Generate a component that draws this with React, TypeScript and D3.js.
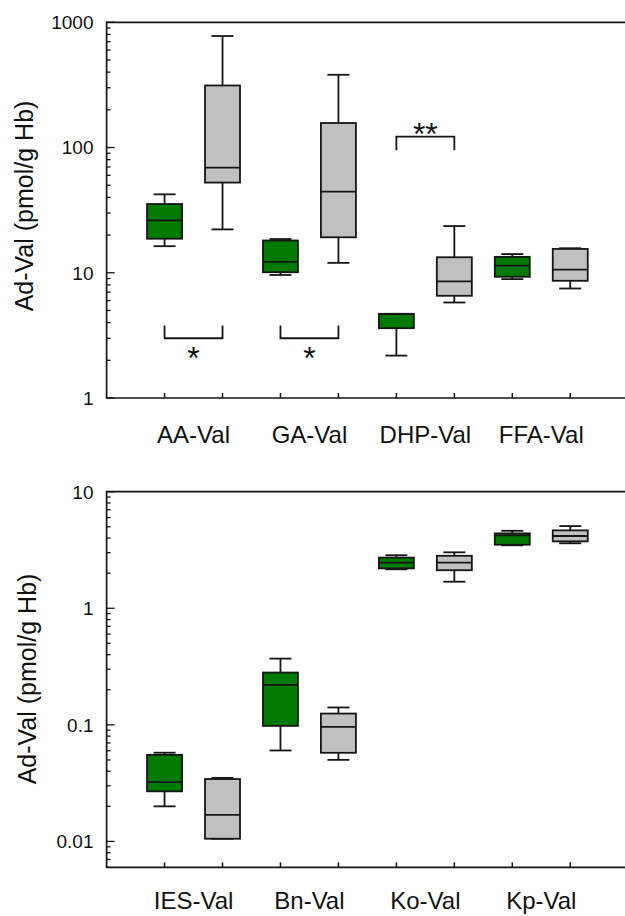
import React, { useRef, useEffect } from "react";
import * as d3 from "d3";

// box stats: [whiskerLow, q1, median, q3, whiskerHigh]
const topCategories = ["AA-Val", "GA-Val", "DHP-Val", "FFA-Val"];
const topGreen = [
  [16.3, 18.7, 26.2, 35.4, 42.3],
  [9.6, 10.1, 12.2, 18.1, 18.6],
  [2.18, 3.61, 4.7, 4.7, 4.7],
  [8.9, 9.29, 11.4, 13.4, 14.1],
];
const topGrey = [
  [22.2, 52.5, 69.2, 313, 777],
  [12.0, 19.2, 44.5, 157, 381],
  [5.79, 6.55, 8.53, 13.3, 23.6],
  [7.49, 8.63, 10.6, 15.5, 15.7],
];
const topTicks = [1, 10, 100, 1000];
const topTickLabels = ["1", "10", "100", "1000"];
// significance: [category index, label, line value, end value]
const topSignif = [
  [0, "*", 3, 3.8],
  [1, "*", 3, 3.8],
  [2, "**", 122, 95],
];

const bottomCategories = ["IES-Val", "Bn-Val", "Ko-Val", "Kp-Val"];
const bottomGreen = [
  [0.02, 0.0269, 0.0323, 0.0553, 0.0577],
  [0.0603, 0.098, 0.22, 0.281, 0.37],
  [2.16, 2.2, 2.46, 2.72, 2.85],
  [3.47, 3.51, 4.22, 4.39, 4.62],
];
const bottomGrey = [
  [0.01055, 0.01055, 0.0169, 0.0343, 0.0351],
  [0.0501, 0.0576, 0.0961, 0.125, 0.141],
  [1.69, 2.12, 2.46, 2.82, 3.02],
  [3.61, 3.75, 4.17, 4.66, 5.07],
];
const bottomTicks = [0.01, 0.1, 1, 10];
const bottomTickLabels = ["0.01", "0.1", "1", "10"];

const yTitle = "Ad-Val (pmol/g Hb)";

const W = 625;
const H = 916;
const FONT = "Arial, 'Liberation Sans', sans-serif";
const GREEN = "#007a00";
const GREY = "#c0c0c0";
const INK = "#151515";

const drawPanel = (svg, cfg) => {
  const x = d3.scaleLinear().domain([0, 9]).range([106.6, 628.2]);
  const y = d3.scaleLog().domain(cfg.domain).range(cfg.range);
  const g = svg.append("g");
  const [x0, x1] = x.range();
  const [yb, yt] = cfg.range;

  // frame: left, bottom, top
  g.append("path")
    .attr("d", `M${x1},${yt}H${x0}V${yb}H${x1}`)
    .attr("fill", "none")
    .attr("stroke", INK)
    .attr("stroke-width", 1.7);

  // y ticks (major + minor, pointing inside)
  const lo = Math.floor(Math.log10(cfg.domain[0]));
  const hi = Math.ceil(Math.log10(cfg.domain[1]));
  for (let e = lo; e < hi; e++) {
    for (let k = 1; k <= 9; k++) {
      const v = k * Math.pow(10, e);
      if (v < cfg.domain[0] * 0.999 || v > cfg.domain[1] * 1.001) continue;
      g.append("line")
        .attr("x1", x0)
        .attr("x2", x0 + (k === 1 ? 8 : 4))
        .attr("y1", y(v))
        .attr("y2", y(v))
        .attr("stroke", INK)
        .attr("stroke-width", 1.3);
    }
  }
  g.append("line")
    .attr("x1", x0).attr("x2", x0 + 8)
    .attr("y1", yt).attr("y2", yt)
    .attr("stroke", INK).attr("stroke-width", 1.3);

  g.selectAll(".ylab")
    .data(cfg.ticks)
    .enter()
    .append("text")
    .attr("x", 93.5)
    .attr("y", d => y(d))
    .attr("dy", "0.36em")
    .attr("text-anchor", "end")
    .style("font-family", FONT)
    .style("font-size", "19px")
    .attr("fill", "#111")
    .text((d, i) => cfg.tickLabels[i]);

  // x ticks pointing up
  d3.range(1, 9).forEach(p => {
    g.append("line")
      .attr("x1", x(p)).attr("x2", x(p))
      .attr("y1", yb).attr("y2", yb - 5)
      .attr("stroke", INK).attr("stroke-width", 1.5);
  });

  g.selectAll(".xlab")
    .data(cfg.categories)
    .enter()
    .append("text")
    .attr("x", (d, i) => x(2 * i + 1.5))
    .attr("y", yb + cfg.labelGap)
    .attr("text-anchor", "middle")
    .style("font-family", FONT)
    .style("font-size", "24px")
    .attr("fill", "#111")
    .text(d => d);

  // y title
  g.append("text")
    .attr("transform", `translate(${cfg.titleX},${cfg.titleY}) rotate(-90)`)
    .attr("text-anchor", "middle")
    .style("font-family", FONT)
    .style("font-size", "25px")
    .attr("fill", "#111")
    .text(yTitle);

  const drawBox = (s, pos, fill) => {
    const cx = x(pos);
    const bw = 17.5;
    const cw = 11;
    const [wl, q1, md, q3, wh] = s;
    const bg = g.append("g")
      .attr("stroke", INK)
      .attr("stroke-width", 1.8);
    bg.append("line").attr("x1", cx).attr("x2", cx).attr("y1", y(q3)).attr("y2", y(wh));
    bg.append("line").attr("x1", cx).attr("x2", cx).attr("y1", y(q1)).attr("y2", y(wl));
    bg.append("line").attr("x1", cx - cw).attr("x2", cx + cw).attr("y1", y(wh)).attr("y2", y(wh));
    bg.append("line").attr("x1", cx - cw).attr("x2", cx + cw).attr("y1", y(wl)).attr("y2", y(wl));
    bg.append("rect")
      .attr("x", cx - bw)
      .attr("width", bw * 2)
      .attr("y", y(q3))
      .attr("height", y(q1) - y(q3))
      .attr("fill", fill);
    bg.append("line").attr("x1", cx - bw).attr("x2", cx + bw).attr("y1", y(md)).attr("y2", y(md));
  };

  cfg.green.forEach((s, i) => drawBox(s, 2 * i + 1, GREEN));
  cfg.grey.forEach((s, i) => drawBox(s, 2 * i + 2, GREY));

  // significance brackets
  (cfg.signif || []).forEach(([ci, label, lineV, endV]) => {
    const xa = x(2 * ci + 1);
    const xb = x(2 * ci + 2);
    const yl = y(lineV);
    const ye = y(endV);
    g.append("path")
      .attr("d", `M${xa},${ye}V${yl}H${xb}V${ye}`)
      .attr("fill", "none")
      .attr("stroke", INK)
      .attr("stroke-width", 1.8);
    const above = ye > yl;
    g.append("text")
      .attr("x", (xa + xb) / 2)
      .attr("y", above ? yl + 8.5 : yl + 30.5)
      .attr("text-anchor", "middle")
      .style("font-family", FONT)
      .style("font-size", "32px")
      .attr("fill", "#111")
      .text(label);
  });
};

const App = () => {
  const ref = useRef();

  useEffect(() => {
    const svg = d3.select(ref.current);
    svg.selectAll("*").remove();

    drawPanel(svg, {
      domain: [1, 1000],
      range: [398, 22.3],
      categories: topCategories,
      green: topGreen,
      grey: topGrey,
      ticks: topTicks,
      tickLabels: topTickLabels,
      signif: topSignif,
      labelGap: 45,
      titleX: 33,
      titleY: 206,
    });

    drawPanel(svg, {
      domain: [0.006, 10],
      range: [867.3, 491.7],
      categories: bottomCategories,
      green: bottomGreen,
      grey: bottomGrey,
      ticks: bottomTicks,
      tickLabels: bottomTickLabels,
      signif: [],
      labelGap: 42,
      titleX: 36,
      titleY: 679,
    });
  }, []);

  return (
    <svg
      ref={ref}
      width={W}
      height={H}
      style={{ position: "absolute", left: 0, top: 0, background: "white" }}
    ></svg>
  );
};

export default App;
